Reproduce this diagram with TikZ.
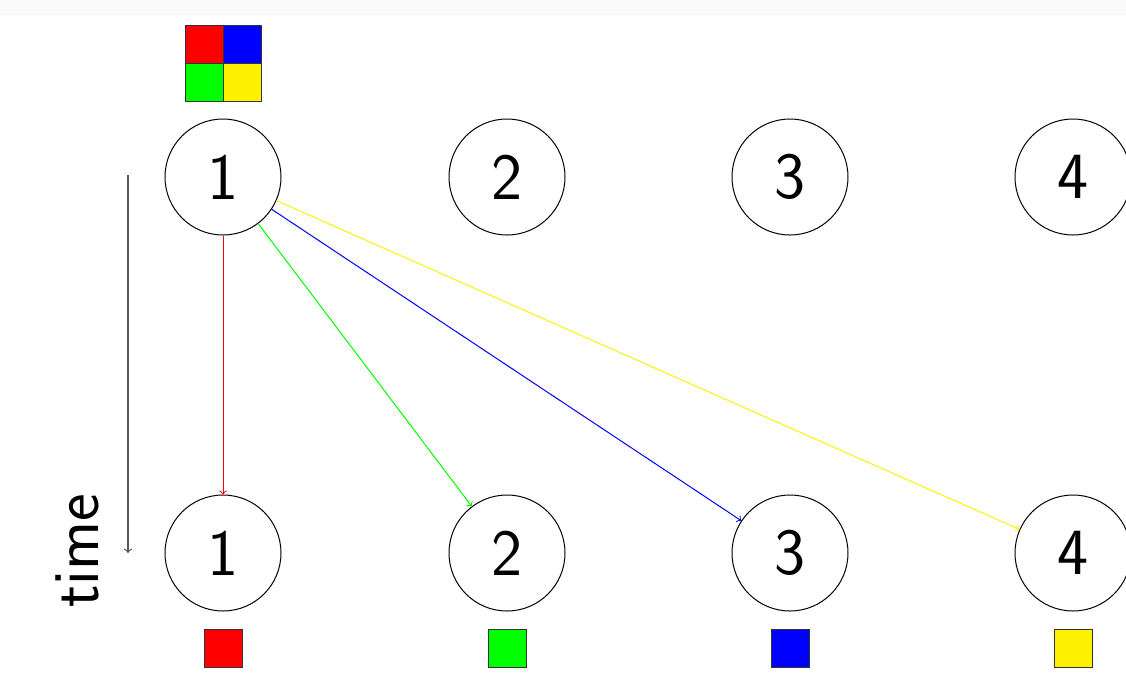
\documentclass[tikz,border=0pt]{standalone}
\usepackage{fontspec}
\begin{document}
\begin{tikzpicture}[x=0.5pt,y=-0.5pt,
  every node/.style={font=\sffamily\fontsize{33}{40}\selectfont},
  proc/.style={circle,draw=black,line width=0.5pt,minimum size=58pt,inner sep=0pt},
  cell/.style={rectangle,draw=black!80,line width=0.5pt,minimum size=19pt,inner sep=0pt},
  msg/.style={->,line width=0.5pt},
  timearrow/.style={->,line width=0.6pt,draw=black!65}]
\useasboundingbox (0,0) rectangle (1126,676);
\fill[black!2] (0,0) rectangle (1126,15);
% top row
\node[proc] (t1) at (223,177) {1};
\node[proc] (t2) at (507,177) {2};
\node[proc] (t3) at (790,177) {3};
\node[proc] (t4) at (1073,177) {4};
% bottom row
\node[proc] (b1) at (223,553) {1};
\node[proc] (b2) at (507,553) {2};
\node[proc] (b3) at (790,553) {3};
\node[proc] (b4) at (1073,553) {4};
% quad
\node[cell,fill=red] (qr) at (204,44) {};
\node[cell,fill=blue] (qb) at (242,44) {};
\node[cell,fill=green] (qg) at (204,82) {};
\node[cell,fill=yellow] (qy) at (242,82) {};
% small squares
\node[cell,fill=red] (sr) at (223,648) {};
\node[cell,fill=green] (sg) at (507,648) {};
\node[cell,fill=blue] (sb) at (790,648) {};
\node[cell,fill=yellow] (sy) at (1073,648) {};
% messages
\draw[msg,red] (t1) -- (b1);
\draw[msg,green] (t1) -- (b2);
\draw[msg,blue] (t1) -- (b3);
\draw[msg,yellow] (t1) -- (b4);
% time
\coordinate (ts) at (128,175);
\coordinate (te) at (128,553);
\draw[timearrow] (ts) -- (te);
\node[rotate=90] (time) at (77,551) {time};
\end{tikzpicture}
\end{document}
